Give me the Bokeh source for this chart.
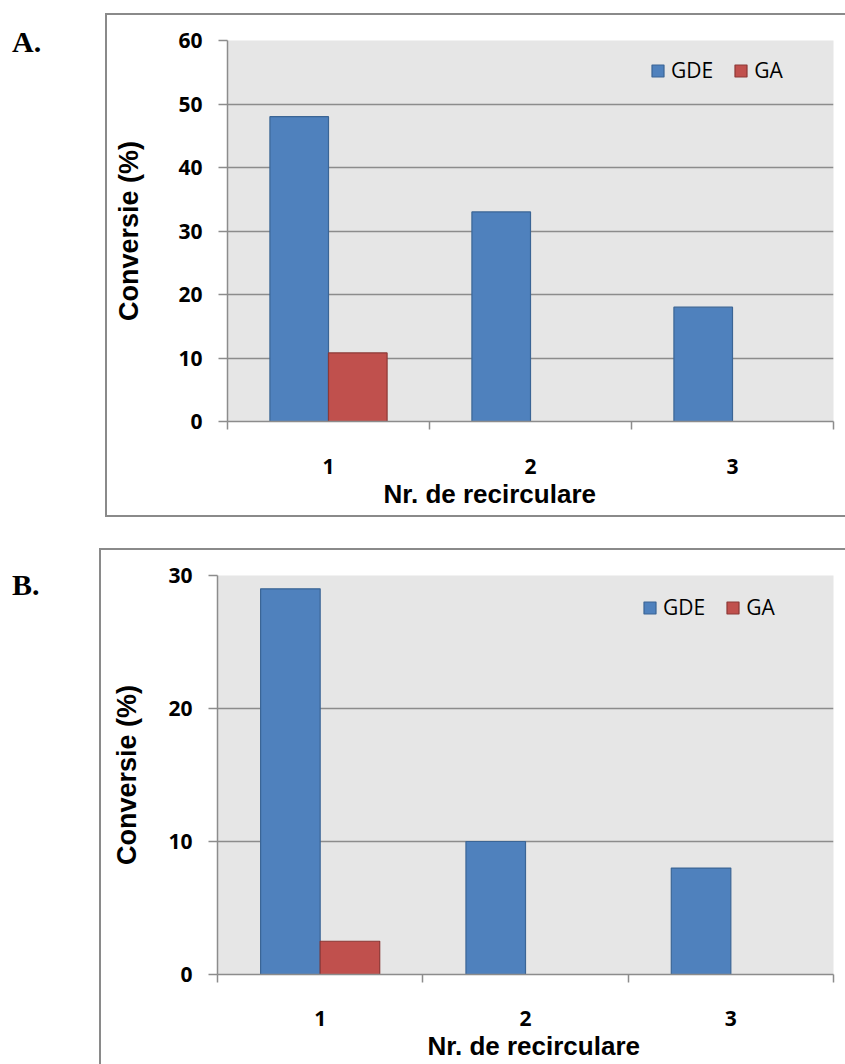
from bokeh.plotting import figure
from bokeh.models import (ColumnDataSource, FixedTicker, Legend, LegendItem, Range1d,
                          Title, Div)
from bokeh.layouts import column, row
from bokeh.embed import file_html
from bokeh.resources import INLINE

# ---- data ----
cycles = [1, 2, 3]
cycle_labels = ["1", "2", "3"]
series_names = ["GDE", "GA"]
gde_a = [48, 33, 18]
ga_a = [10.8, 0, 0]
gde_b = [29, 10, 8]
ga_b = [2.5, 0, 0]
yticks_a = [0, 10, 20, 30, 40, 50, 60]
yticks_b = [0, 10, 20, 30]
x_title = "Nr. de recirculare"
y_title = "Conversie (%)"

# ---- style ----
BLUE, BLUE_LINE = "#4f81bd", "#3b6595"
RED, RED_LINE = "#c0504d", "#8c3836"
GRAY = "#8c8c8c"
BOX = "#8a8a8a"
BG = "#e6e6e6"
BAR_W = 0.29
TICK_FONT = "Open Sans"
TITLE_FONT = "Liberation Sans"


def make_panel(gde, ga, yticks, width, height, mb_left, mb_right, mb_top, mb_bottom,
               legend_pos, x_std, xt_offset, yl_standoff, borders, margin_top):
    p = figure(width=width, height=height, output_backend="svg", toolbar_location=None,
               x_range=Range1d(0.5, 3.5), y_range=Range1d(yticks[0], yticks[-1]))
    p.min_border_left = mb_left
    p.min_border_right = mb_right
    p.min_border_top = mb_top
    p.min_border_bottom = mb_bottom
    p.background_fill_color = BG
    p.border_fill_color = "white"
    p.outline_line_color = None
    p.margin = (margin_top, 0, 0, 0)
    st = {b: "2px solid " + BOX for b in borders}
    st["box-sizing"] = "content-box"
    st["overflow"] = "hidden"
    p.styles = st

    src_gde = ColumnDataSource(dict(x=[c - BAR_W / 2 for c in cycles], top=gde))
    keep = [i for i, v in enumerate(ga) if v > 0]
    src_ga = ColumnDataSource(dict(x=[cycles[i] + BAR_W / 2 for i in keep],
                                   top=[ga[i] for i in keep]))
    r1 = p.vbar(x="x", top="top", width=BAR_W, source=src_gde, fill_color=BLUE,
                line_color=BLUE_LINE, line_width=1.2)
    r2 = p.vbar(x="x", top="top", width=BAR_W, source=src_ga, fill_color=RED,
                line_color=RED_LINE, line_width=1.2)

    xa = p.xaxis[0]
    xa.ticker = FixedTicker(ticks=cycles, minor_ticks=[0.5, 1.5, 2.5, 3.5])
    xa.major_label_overrides = {c: l for c, l in zip(cycles, cycle_labels)}
    xa.major_tick_out = 0
    xa.major_tick_in = 0
    xa.minor_tick_out = 8
    xa.minor_tick_in = 0
    xa.minor_tick_line_color = GRAY
    xa.minor_tick_line_width = 1.5
    xa.axis_line_color = GRAY
    xa.axis_line_width = 1.5
    xa.major_label_text_font = TICK_FONT
    xa.major_label_text_font_style = "bold"
    xa.major_label_text_font_size = "21px"
    xa.major_label_text_color = "black"
    xa.major_label_standoff = x_std

    ya = p.yaxis[0]
    ya.ticker = FixedTicker(ticks=yticks)
    ya.major_tick_out = 9
    ya.major_tick_in = 0
    ya.minor_tick_out = 0
    ya.minor_tick_in = 0
    ya.major_tick_line_color = GRAY
    ya.major_tick_line_width = 1.5
    ya.axis_line_color = GRAY
    ya.axis_line_width = 1.5
    ya.major_label_text_font = TICK_FONT
    ya.major_label_text_font_style = "bold"
    ya.major_label_text_font_size = "21px"
    ya.major_label_text_color = "black"
    ya.major_label_standoff = 16
    ya.axis_label = y_title
    ya.axis_label_text_font = TITLE_FONT
    ya.axis_label_text_font_style = "bold"
    ya.axis_label_text_font_size = "27px"
    ya.axis_label_text_color = "black"
    ya.axis_label_standoff = yl_standoff

    p.xgrid.grid_line_color = None
    p.ygrid.ticker = FixedTicker(ticks=yticks)
    p.ygrid.grid_line_color = GRAY
    p.ygrid.grid_line_width = 1.5

    legend = Legend(items=[LegendItem(label=series_names[0], renderers=[r1]),
                           LegendItem(label=series_names[1], renderers=[r2])],
                    location=legend_pos, orientation="horizontal",
                    background_fill_alpha=0, border_line_color=None,
                    padding=0, margin=0, spacing=20, label_standoff=6,
                    glyph_width=15, glyph_height=15,
                    label_text_font="Open Sans", label_text_font_size="21px",
                    label_text_color="black")
    p.add_layout(legend)

    # x-axis title as a side-panel title so it can sit off-centre like the original
    p.add_layout(Title(text=x_title, align="left", offset=xt_offset, standoff=0,
                       text_font=TITLE_FONT, text_font_style="bold",
                       text_font_size="26px", text_color="black"), "below")
    return p


def letter_div(letter, width, height, top):
    html = ('<div style="margin:%dpx 0 0 12px; font-family:\'Liberation Serif\'; '
            'font-weight:bold; font-size:30px; line-height:1; color:black;">%s</div>'
            % (top, letter))
    return Div(text=html, width=width, height=height, margin=0)


pA = make_panel(gde_a, ga_a, yticks_a, width=738, height=500, mb_left=120, mb_right=14,
                mb_top=25, mb_bottom=98, legend_pos=(423, 337), x_std=29, xt_offset=156,
                yl_standoff=31,
                borders=["border-left", "border-top", "border-bottom"], margin_top=13)
pB = make_panel(gde_b, ga_b, yticks_b, width=744, height=514, mb_left=116, mb_right=14,
                mb_top=25, mb_bottom=92, legend_pos=(425, 353), x_std=28, xt_offset=210,
                yl_standoff=23,
                borders=["border-left", "border-top"], margin_top=31)

rowA = row(letter_div("A.", 105, 517, 27), pA, spacing=0)
rowB = row(letter_div("B.", 99, 547, 53), pB, spacing=0)
layout = column(rowA, rowB, spacing=0)
open("out.html", "w").write(file_html(layout, INLINE))
